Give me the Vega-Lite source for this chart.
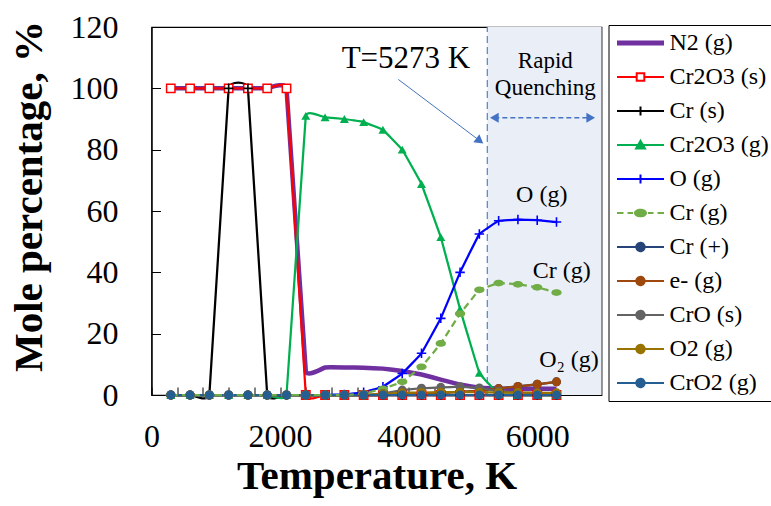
{
  "$schema": "https://vega.github.io/schema/vega-lite/v6.json",
  "width": 450,
  "height": 368,
  "autosize": {"type": "none"},
  "padding": {"left": 151.5, "top": 27, "right": 169.5, "bottom": 111},
  "background": "white",
  "config": {
    "view": {"stroke": "black", "strokeWidth": 1.2},
    "font": "Liberation Serif",
    "axis": {
      "grid": false,
      "domainColor": "black",
      "domainWidth": 1.2,
      "tickColor": "black",
      "tickWidth": 1,
      "labelFont": "Liberation Serif",
      "labelFontSize": 32,
      "labelColor": "black",
      "labelFlush": false,
      "labelOverlap": false,
      "labelBound": false,
      "titleFont": "Liberation Serif",
      "titleFontSize": 41,
      "titleFontWeight": "bold",
      "titleColor": "black"
    },
    "legend": {
      "orient": "none",
      "legendX": 457,
      "legendY": -2,
      "strokeColor": "black",
      "fillColor": "white",
      "padding": 6,
      "labelFont": "Liberation Serif",
      "labelFontSize": 24,
      "labelColor": "black",
      "labelLimit": 400,
      "symbolSize": 400,
      "symbolOffset": 14,
      "labelOffset": 17,
      "rowPadding": 10
    }
  },
  "resolve": {"axis": {"x": "independent"}},
  "data": {
    "values": [
      {"T": 300, "N2 (g)": 100, "Cr2O3 (s)": 100, "Cr (s)": 0, "Cr2O3 (g)": 0, "O (g)": 0, "Cr (g)": 0, "Cr (+)": 0, "e- (g)": 0, "CrO (s)": 0, "O2 (g)": 0, "CrO2 (g)": 0},
      {"T": 600, "N2 (g)": 100, "Cr2O3 (s)": 100, "Cr (s)": 0, "Cr2O3 (g)": 0, "O (g)": 0, "Cr (g)": 0, "Cr (+)": 0, "e- (g)": 0, "CrO (s)": 0, "O2 (g)": 0, "CrO2 (g)": 0},
      {"T": 900, "N2 (g)": 100, "Cr2O3 (s)": 100, "Cr (s)": 0, "Cr2O3 (g)": 0, "O (g)": 0, "Cr (g)": 0, "Cr (+)": 0, "e- (g)": 0, "CrO (s)": 0, "O2 (g)": 0, "CrO2 (g)": 0},
      {"T": 1200, "N2 (g)": 100, "Cr2O3 (s)": 100, "Cr (s)": 100, "Cr2O3 (g)": 0, "O (g)": 0, "Cr (g)": 0, "Cr (+)": 0, "e- (g)": 0, "CrO (s)": 0, "O2 (g)": 0, "CrO2 (g)": 0},
      {"T": 1500, "N2 (g)": 100, "Cr2O3 (s)": 100, "Cr (s)": 100, "Cr2O3 (g)": 0, "O (g)": 0, "Cr (g)": 0, "Cr (+)": 0, "e- (g)": 0, "CrO (s)": 0, "O2 (g)": 0, "CrO2 (g)": 0},
      {"T": 1800, "N2 (g)": 100, "Cr2O3 (s)": 100, "Cr (s)": 0, "Cr2O3 (g)": 0, "O (g)": 0, "Cr (g)": 0, "Cr (+)": 0, "e- (g)": 0, "CrO (s)": 0, "O2 (g)": 0, "CrO2 (g)": 0},
      {"T": 2100, "N2 (g)": 100, "Cr2O3 (s)": 100, "Cr (s)": 0, "Cr2O3 (g)": 0, "O (g)": 0, "Cr (g)": 0, "Cr (+)": 0, "e- (g)": 0, "CrO (s)": 0, "O2 (g)": 0, "CrO2 (g)": 0},
      {"T": 2400, "N2 (g)": 7.8, "Cr2O3 (s)": 0, "Cr (s)": 0, "Cr2O3 (g)": 91, "O (g)": 0, "Cr (g)": 0, "Cr (+)": 0, "e- (g)": 0, "CrO (s)": 0, "O2 (g)": 0, "CrO2 (g)": 0},
      {"T": 2700, "N2 (g)": 9.0, "Cr2O3 (s)": 0, "Cr (s)": 0, "Cr2O3 (g)": 90.5, "O (g)": 0, "Cr (g)": 0, "Cr (+)": 0, "e- (g)": 0, "CrO (s)": 0, "O2 (g)": 0, "CrO2 (g)": 0},
      {"T": 3000, "N2 (g)": 9.0, "Cr2O3 (s)": 0, "Cr (s)": 0, "Cr2O3 (g)": 90, "O (g)": 0.2, "Cr (g)": 0, "Cr (+)": 0, "e- (g)": 0, "CrO (s)": 0, "O2 (g)": 0, "CrO2 (g)": 0},
      {"T": 3300, "N2 (g)": 8.9, "Cr2O3 (s)": 0, "Cr (s)": 0, "Cr2O3 (g)": 89, "O (g)": 0.9, "Cr (g)": 0.5, "Cr (+)": 0, "e- (g)": 0, "CrO (s)": 0, "O2 (g)": 0, "CrO2 (g)": 0},
      {"T": 3600, "N2 (g)": 8.6, "Cr2O3 (s)": 0, "Cr (s)": 0, "Cr2O3 (g)": 86.5, "O (g)": 2.7, "Cr (g)": 2.0, "Cr (+)": 0, "e- (g)": 0, "CrO (s)": 0.5, "O2 (g)": 0.4, "CrO2 (g)": 0},
      {"T": 3900, "N2 (g)": 7.8, "Cr2O3 (s)": 0, "Cr (s)": 0, "Cr2O3 (g)": 80, "O (g)": 7.0, "Cr (g)": 4.3, "Cr (+)": 0.3, "e- (g)": 0.3, "CrO (s)": 1.6, "O2 (g)": 0.7, "CrO2 (g)": 0},
      {"T": 4200, "N2 (g)": 6.7, "Cr2O3 (s)": 0, "Cr (s)": 0, "Cr2O3 (g)": 68.8, "O (g)": 13.6, "Cr (g)": 9.2, "Cr (+)": 0.5, "e- (g)": 0.5, "CrO (s)": 2.2, "O2 (g)": 0.8, "CrO2 (g)": 0},
      {"T": 4500, "N2 (g)": 5.0, "Cr2O3 (s)": 0, "Cr (s)": 0, "Cr2O3 (g)": 51.5, "O (g)": 25.0, "Cr (g)": 16.8, "Cr (+)": 0.7, "e- (g)": 0.7, "CrO (s)": 2.5, "O2 (g)": 0.9, "CrO2 (g)": 0},
      {"T": 4800, "N2 (g)": 3.4, "Cr2O3 (s)": 0, "Cr (s)": 0, "Cr2O3 (g)": 28, "O (g)": 40.0, "Cr (g)": 26.5, "Cr (+)": 1.0, "e- (g)": 1.0, "CrO (s)": 2.7, "O2 (g)": 0.9, "CrO2 (g)": 0},
      {"T": 5100, "N2 (g)": 2.4, "Cr2O3 (s)": 0, "Cr (s)": 0, "Cr2O3 (g)": 7.2, "O (g)": 52.5, "Cr (g)": 34.3, "Cr (+)": 1.4, "e- (g)": 1.4, "CrO (s)": 2.3, "O2 (g)": 0.9, "CrO2 (g)": 0},
      {"T": 5400, "N2 (g)": 2.1, "Cr2O3 (s)": 0, "Cr (s)": 0, "Cr2O3 (g)": 0.3, "O (g)": 56.8, "Cr (g)": 36.5, "Cr (+)": 2.1, "e- (g)": 2.1, "CrO (s)": 1.2, "O2 (g)": 0.8, "CrO2 (g)": 0},
      {"T": 5700, "N2 (g)": 2.0, "Cr2O3 (s)": 0, "Cr (s)": 0, "Cr2O3 (g)": 0, "O (g)": 57.2, "Cr (g)": 36.1, "Cr (+)": 2.8, "e- (g)": 2.8, "CrO (s)": 0.8, "O2 (g)": 0.8, "CrO2 (g)": 0},
      {"T": 6000, "N2 (g)": 2.0, "Cr2O3 (s)": 0, "Cr (s)": 0, "Cr2O3 (g)": 0, "O (g)": 57.0, "Cr (g)": 35.1, "Cr (+)": 3.5, "e- (g)": 3.5, "CrO (s)": 0.6, "O2 (g)": 0.7, "CrO2 (g)": 0},
      {"T": 6300, "N2 (g)": 2.0, "Cr2O3 (s)": 0, "Cr (s)": 0, "Cr2O3 (g)": 0, "O (g)": 56.4, "Cr (g)": 33.4, "Cr (+)": 4.3, "e- (g)": 4.3, "CrO (s)": 0.5, "O2 (g)": 0.7, "CrO2 (g)": 0}
    ]
  },
  "transform": [
    {"fold": ["N2 (g)", "Cr2O3 (s)", "Cr (s)", "Cr2O3 (g)", "O (g)", "Cr (g)", "Cr (+)", "e- (g)", "CrO (s)", "O2 (g)", "CrO2 (g)"], "as": ["series", "pct"]}
  ],
  "layer": [
    {
      "data": {"values": [{}]},
      "mark": {"type": "rect", "color": "#EAEEF7"},
      "encoding": {
        "x": {
          "datum": 5224, "type": "quantitative",
          "scale": {"domain": [0, 7000], "nice": false, "zero": false},
          "axis": {
            "title": "Temperature, K",
            "orient": "bottom",
            "values": [0, 2000, 4000, 6000],
            "format": "d",
            "labelOverlap": false,
            "labelFlush": false,
            "labelPadding": 34,
            "tickSize": -8,
            "titleY": 93,
            "titleBaseline": "alphabetic"
          }
        },
        "x2": {"datum": 7000},
        "y": {
          "datum": 0, "type": "quantitative",
          "scale": {"domain": [0, 120], "nice": false},
          "axis": {
            "title": "Mole percentage, %",
            "values": [0, 20, 40, 60, 80, 100, 120],
            "labelOverlap": false,
            "tickSize": -9,
            "labelPadding": 42.5,
            "titleAngle": 270,
            "titleX": -110,
            "titleY": 169,
            "titleAlign": "center",
            "titleBaseline": "alphabetic"
          }
        },
        "y2": {"datum": 120}
      }
    },
    {
      "data": {"values": [{}]},
      "mark": {"type": "rule", "color": "#5B8BD6", "strokeWidth": 1.3, "strokeDash": [7, 4]},
      "encoding": {
        "x": {
          "datum": 5224, "type": "quantitative",
          "axis": {
            "orient": "bottom",
            "title": null,
            "labels": false,
            "domain": false,
            "values": [400, 800, 1200, 1600, 2400, 2800, 3200, 3600, 4400, 4800, 5200, 5600, 6400, 6800],
            "tickSize": -8
          }
        },
        "y": {"datum": 0, "type": "quantitative"},
        "y2": {"datum": 120}
      }
    },
    {
      "transform": [{"filter": "datum.series === 'N2 (g)'"}],
      "mark": {"type": "line", "interpolate": "cardinal", "tension": 0.85, "strokeWidth": 4.5},
      "encoding": {
        "x": {"field": "T", "type": "quantitative", "axis": null},
        "y": {"field": "pct", "type": "quantitative"},
        "color": {
          "field": "series", "type": "nominal",
          "scale": {
            "domain": ["N2 (g)", "Cr2O3 (s)", "Cr (s)", "Cr2O3 (g)", "O (g)", "Cr (g)", "Cr (+)", "e- (g)", "CrO (s)", "O2 (g)", "CrO2 (g)"],
            "range": ["#7030A0", "#FF0000", "#000000", "#00B050", "#0000FF", "#70AD47", "#264478", "#9E480E", "#636363", "#997300", "#255E91"]
          },
          "legend": {
            "title": null,
            "labelFont": "Liberation Serif",
            "labelFontSize": 24,
            "labelOffset": 17,
            "encode": {
              "labels": {
                "update": {
                  "font": {"value": "Liberation Serif"},
                  "fontSize": {"value": 24}
                }
              },
              "symbols": {
                "update": {
                  "shape": {"signal": "['M-2.35,0H2.35','M-2.35,0H-0.38M0.38,0H2.35M-0.38,-0.38H0.38V0.38H-0.38Z','M-2.35,0H2.35M0,-0.45V0.45','M-2.35,0H2.35M0,-0.42L0.45,0.36H-0.45Z','M-2.35,0H2.35M0,-0.45V0.45','M-2.35,0H-1.7M-1.3,0H-0.75M0.75,0H1.3M1.7,0H2.35M-0.55,0A0.55,0.33 0 1,0 0.55,0A0.55,0.33 0 1,0 -0.55,0Z','M-2.35,0H2.35M-0.42,0A0.42,0.42 0 1,0 0.42,0A0.42,0.42 0 1,0 -0.42,0Z','M-2.35,0H2.35M-0.42,0A0.42,0.42 0 1,0 0.42,0A0.42,0.42 0 1,0 -0.42,0Z','M-2.35,0H2.35M-0.42,0A0.42,0.42 0 1,0 0.42,0A0.42,0.42 0 1,0 -0.42,0Z','M-2.35,0H2.35M-0.42,0A0.42,0.42 0 1,0 0.42,0A0.42,0.42 0 1,0 -0.42,0Z','M-2.35,0H2.35M-0.42,0A0.42,0.42 0 1,0 0.42,0A0.42,0.42 0 1,0 -0.42,0Z'][indexof(['N2 (g)','Cr2O3 (s)','Cr (s)','Cr2O3 (g)','O (g)','Cr (g)','Cr (+)','e- (g)','CrO (s)','O2 (g)','CrO2 (g)'], datum.value)]"},
                  "fill": {"signal": "['transparent','white','transparent','#00B050','transparent','#70AD47','#264478','#9E480E','#636363','#997300','#255E91'][indexof(['N2 (g)','Cr2O3 (s)','Cr (s)','Cr2O3 (g)','O (g)','Cr (g)','Cr (+)','e- (g)','CrO (s)','O2 (g)','CrO2 (g)'], datum.value)]"},
                  "fillOpacity": {"signal": "datum.value === 'Cr2O3 (s)' ? 0 : 1"},
                  "stroke": {"signal": "['#7030A0','#FF0000','#000000','#00B050','#0000FF','#70AD47','#264478','#9E480E','#636363','#997300','#255E91'][indexof(['N2 (g)','Cr2O3 (s)','Cr (s)','Cr2O3 (g)','O (g)','Cr (g)','Cr (+)','e- (g)','CrO (s)','O2 (g)','CrO2 (g)'], datum.value)]"},
                  "strokeWidth": {"signal": "datum.value === 'N2 (g)' ? 5 : 2"},
                  "strokeDash": {"value": [1, 0]},
                  "size": {"value": 400},
                  "opacity": {"value": 1}
                }
              }
            }
          }
        }
      }
    },
    {
      "transform": [{"filter": "datum.series !== 'N2 (g)' && datum.series !== 'Cr (g)'"}],
      "mark": {"type": "line", "interpolate": "cardinal", "tension": 0.85, "strokeWidth": 2.25},
      "encoding": {
        "x": {"field": "T", "type": "quantitative", "axis": null},
        "y": {"field": "pct", "type": "quantitative"},
        "color": {"field": "series", "type": "nominal"}
      }
    },
    {
      "transform": [{"filter": "datum.series === 'Cr (g)'"}],
      "mark": {"type": "line", "interpolate": "cardinal", "tension": 0.85, "strokeWidth": 2.25, "strokeDash": [7, 4]},
      "encoding": {
        "x": {"field": "T", "type": "quantitative", "axis": null},
        "y": {"field": "pct", "type": "quantitative"},
        "color": {"field": "series", "type": "nominal"}
      }
    },
    {
      "transform": [{"filter": "datum.series === 'Cr2O3 (s)'"}],
      "mark": {"type": "point", "shape": "square", "size": 70, "filled": true, "fill": "white", "stroke": "#FF0000", "strokeWidth": 1.5, "opacity": 1},
      "encoding": {
        "x": {"field": "T", "type": "quantitative", "axis": null},
        "y": {"field": "pct", "type": "quantitative"}
      }
    },
    {
      "transform": [{"filter": "datum.series === 'Cr (s)' || datum.series === 'O (g)'"}],
      "mark": {"type": "point", "shape": "M-1,0H1M0,-1V1", "size": 90, "filled": false, "strokeWidth": 1.6, "opacity": 1},
      "encoding": {
        "x": {"field": "T", "type": "quantitative", "axis": null},
        "y": {"field": "pct", "type": "quantitative"},
        "color": {"field": "series", "type": "nominal"}
      }
    },
    {
      "transform": [{"filter": {"field": "series", "oneOf": ["Cr2O3 (g)", "Cr (g)", "Cr (+)", "e- (g)", "CrO (s)", "O2 (g)", "CrO2 (g)"]}}],
      "mark": {"type": "point", "size": 81, "filled": true, "opacity": 1},
      "encoding": {
        "x": {"field": "T", "type": "quantitative", "axis": null},
        "y": {"field": "pct", "type": "quantitative"},
        "color": {"field": "series", "type": "nominal"},
        "shape": {
          "field": "series", "type": "nominal", "legend": null,
          "scale": {
            "domain": ["Cr2O3 (g)", "Cr (g)", "Cr (+)", "e- (g)", "CrO (s)", "O2 (g)", "CrO2 (g)"],
            "range": ["triangle-up", "M-1.15,0A1.15,0.75 0 1,0 1.15,0A1.15,0.75 0 1,0 -1.15,0Z", "circle", "circle", "circle", "circle", "circle"]
          }
        }
      }
    },
    {
      "data": {"values": [{}]},
      "mark": {"type": "text", "text": "T=5273 K", "font": "Liberation Serif", "fontSize": 31, "align": "center", "baseline": "alphabetic", "color": "black"},
      "encoding": {
        "x": {"datum": 3958, "type": "quantitative", "axis": null},
        "y": {"datum": 106.5, "type": "quantitative"}
      }
    },
    {
      "data": {"values": [{}]},
      "mark": {"type": "rule", "color": "#4472C4", "strokeWidth": 1},
      "encoding": {
        "x": {"datum": 3839, "type": "quantitative", "axis": null},
        "y": {"datum": 102.9, "type": "quantitative"},
        "x2": {"datum": 5107},
        "y2": {"datum": 82.9}
      }
    },
    {
      "data": {"values": [{}]},
      "mark": {"type": "point", "shape": "triangle-right", "angle": 37, "size": 100, "filled": true, "color": "#4472C4", "opacity": 1},
      "encoding": {
        "x": {"datum": 5107, "type": "quantitative", "axis": null},
        "y": {"datum": 82.9, "type": "quantitative"}
      }
    },
    {
      "data": {"values": [{}]},
      "mark": {"type": "text", "text": ["Rapid", "Quenching"], "lineHeight": 27, "font": "Liberation Serif", "fontSize": 23, "align": "center", "baseline": "alphabetic", "color": "black"},
      "encoding": {
        "x": {"datum": 6126, "type": "quantitative", "axis": null},
        "y": {"datum": 106.5, "type": "quantitative"}
      }
    },
    {
      "data": {"values": [{}]},
      "mark": {"type": "rule", "color": "#4472C4", "strokeWidth": 1.5, "strokeDash": [5, 3]},
      "encoding": {
        "x": {"datum": 5333, "type": "quantitative", "axis": null},
        "y": {"datum": 90.4, "type": "quantitative"},
        "x2": {"datum": 6832}
      }
    },
    {
      "data": {"values": [{}]},
      "mark": {"type": "point", "shape": "triangle-left", "size": 100, "filled": true, "color": "#4472C4", "opacity": 1},
      "encoding": {
        "x": {"datum": 5333, "type": "quantitative", "axis": null},
        "y": {"datum": 90.4, "type": "quantitative"}
      }
    },
    {
      "data": {"values": [{}]},
      "mark": {"type": "point", "shape": "triangle-right", "size": 100, "filled": true, "color": "#4472C4", "opacity": 1},
      "encoding": {
        "x": {"datum": 6832, "type": "quantitative", "axis": null},
        "y": {"datum": 90.4, "type": "quantitative"}
      }
    },
    {
      "data": {"values": [{}]},
      "mark": {"type": "text", "text": "O (g)", "font": "Liberation Serif", "fontSize": 24, "align": "center", "baseline": "alphabetic", "color": "black"},
      "encoding": {
        "x": {"datum": 6070, "type": "quantitative", "axis": null},
        "y": {"datum": 63.0, "type": "quantitative"}
      }
    },
    {
      "data": {"values": [{}]},
      "mark": {"type": "text", "text": "Cr (g)", "font": "Liberation Serif", "fontSize": 24, "align": "center", "baseline": "alphabetic", "color": "black"},
      "encoding": {
        "x": {"datum": 6381, "type": "quantitative", "axis": null},
        "y": {"datum": 38.1, "type": "quantitative"}
      }
    },
    {
      "data": {"values": [{}]},
      "mark": {"type": "text", "text": "O₂ (g)", "font": "Liberation Serif", "fontSize": 24, "align": "center", "baseline": "alphabetic", "color": "black"},
      "encoding": {
        "x": {"datum": 6494, "type": "quantitative", "axis": null},
        "y": {"datum": 9.1, "type": "quantitative"}
      }
    }
  ]
}
